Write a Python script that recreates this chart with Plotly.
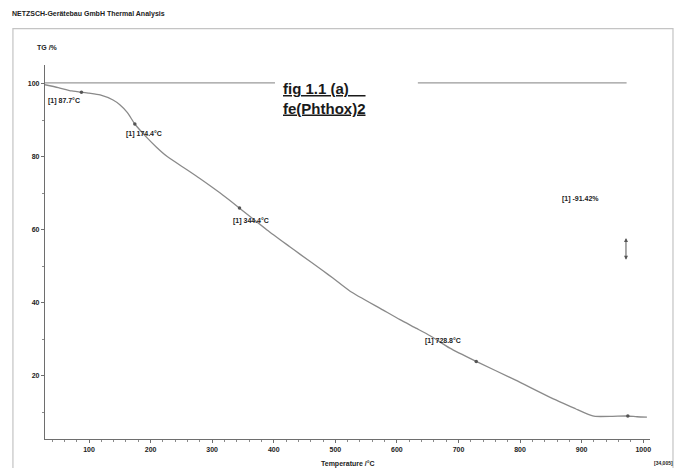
import numpy as np
import plotly.graph_objects as go

# TG curve of fe(Phthox)2: temperature (°C) vs. residual mass (%)
temperature = [28, 50, 72, 100, 118, 139, 150, 162, 175, 194, 210, 227, 259, 280,
               313, 342, 389, 426, 443, 480, 496, 524, 577, 605, 632, 654, 686,
               727, 792, 848, 890, 913, 922, 950, 973, 990, 1006]
mass = [99.8, 99.0, 98.1, 97.5, 97.0, 95.6, 94.3, 92.2, 88.9, 85.3, 82.6, 80.1,
        76.5, 74.1, 70.1, 66.3, 60.0, 55.4, 53.3, 48.8, 46.8, 43.2, 38.1, 35.4,
        33.0, 31.0, 27.6, 24.1, 18.9, 14.2, 11.0, 9.3, 8.9, 8.9, 9.0, 8.8, 8.7]

# Evaluated onset / step temperatures
event_temps = [87.7, 174.4, 344.4, 728.8, 975.0]
event_labels = ["[1] 87.7°C", "[1] 174.4°C", "[1] 344.4°C", "[1] 728.8°C"]
mass_change = "-91.42%"

# Baseline at 100 % (two segments)
baseline_level = 100.3
baseline_spans = [(28.5, 402), (634, 973)]

x_ticks = [100, 200, 300, 400, 500, 600, 700, 800, 900, 1000]
y_ticks = [20, 40, 60, 80, 100]

FONT = "Liberation Sans, Arial, sans-serif"
INK = "#222222"
CURVE = "#8a8a8a"

fig = go.Figure()

for x0, x1 in baseline_spans:
    fig.add_trace(go.Scatter(x=[x0, x1], y=[baseline_level, baseline_level],
                             mode="lines", line=dict(color="#9a9a9a", width=1.1),
                             hoverinfo="skip", showlegend=False))

fig.add_trace(go.Scatter(x=temperature, y=mass, mode="lines",
                         line=dict(color=CURVE, width=1.3, shape="spline",
                                   smoothing=0.6),
                         showlegend=False))

event_mass = np.interp(event_temps, temperature, mass)
fig.add_trace(go.Scatter(x=event_temps, y=event_mass, mode="markers",
                         marker=dict(color="#555555", size=3.5),
                         showlegend=False))

small = dict(family=FONT, size=7, color=INK, weight="bold")

# event labels placed just below-right of each marker
label_pos = [(29.5, 95.4), (156, 86.4), (330, 62.4), (643, 29.5)]
for (lx, ly), txt in zip(label_pos, event_labels):
    fig.add_annotation(x=lx, y=ly, text=txt, showarrow=False,
                       xanchor="left", yanchor="middle", font=small)

fig.add_annotation(x=865, y=68.5, text="[1] " + mass_change, showarrow=False,
                   xanchor="left", yanchor="middle", font=small)

# double-headed arrow for the mass change
fig.add_annotation(x=972, y=51.8, ax=972, ay=58.2, xref="x", yref="y",
                   axref="x", ayref="y", text="", showarrow=True,
                   arrowhead=2, arrowside="end+start", arrowsize=0.8,
                   arrowwidth=1, arrowcolor="#555555")

fig.add_annotation(x=412, y=101.6, text="fig 1.1 (a)    <br>fe(Phthox)2",
                   showarrow=False, xanchor="left", yanchor="top", align="left",
                   font=dict(family=FONT, size=15, color="#1a1a1a",
                             weight="bold", lineposition="under"))

fig.add_annotation(xref="paper", yref="paper", x=-0.058, y=1.136,
                   text="NETZSCH-Gerätebau GmbH Thermal Analysis",
                   showarrow=False, xanchor="left", yanchor="middle", font=small)
fig.add_annotation(xref="paper", yref="paper", x=-0.016, y=1.046,
                   text="TG /%", showarrow=False, xanchor="left",
                   yanchor="middle", font=small)
fig.add_annotation(xref="paper", yref="paper", x=0.5, y=-0.067,
                   text="Temperature /°C", showarrow=False, xanchor="center",
                   yanchor="middle", font=small)
fig.add_annotation(xref="paper", yref="paper", x=1.023, y=-0.063,
                   text="[34,005]", showarrow=False, xanchor="center",
                   yanchor="middle", font=dict(family=FONT, size=5, color=INK,
                                              weight="bold"))

# outer report frame
fig.add_shape(type="rect", xref="paper", yref="paper",
              x0=-0.053, x1=1.038, y0=-0.12, y1=1.097,
              line=dict(color="#c4c4c4", width=1.2), layer="below")

axis_common = dict(showgrid=False, zeroline=False, showline=True,
                   linecolor="#6e6e6e", linewidth=1.2, ticks="outside",
                   ticklen=3, tickcolor="#6e6e6e", tickfont=small)

fig.update_xaxes(range=[28.5, 1011], tickvals=x_ticks,
                 minor=dict(dtick=20, ticks="outside", ticklen=2,
                            tickcolor="#8a8a8a", tick0=0),
                 **axis_common)
fig.update_yaxes(range=[2.7, 105.2], tickvals=y_ticks,
                 minor=dict(dtick=10, ticks="outside", ticklen=2,
                            tickcolor="#8a8a8a", tick0=0),
                 **axis_common)

fig.update_layout(width=676, height=468,
                  margin=dict(l=45, r=26, t=65, b=29),
                  paper_bgcolor="white", plot_bgcolor="white",
                  showlegend=False)

fig.write_html("out.html")
